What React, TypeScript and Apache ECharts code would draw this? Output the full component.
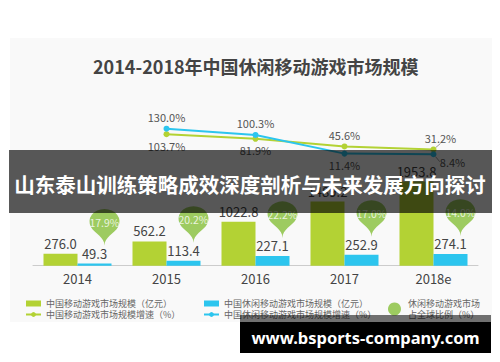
import React, { useEffect, useRef } from 'react';
import * as echarts from 'echarts';

const categories = ['2014', '2015', '2016', '2017', '2018e'];
const mobileMarket = [276.0, 562.2, 1022.8, 1489.2, 1953.8];
const casualMarket = [49.3, 113.4, 227.1, 252.9, 274.1];
const mobileGrowth: (number | string)[] = ['-', 103.7, 81.9, 45.6, 31.2];
const casualGrowth: (number | string)[] = ['-', 130.0, 100.3, 11.4, 8.4];
const globalShare = [17.9, 20.2, 22.2, 17.0, 14.0];

const mobileGrowthLabelPos = ['bottom', 'bottom', 'bottom', 'top', 'top'];
const casualGrowthLabelPos = ['top', 'top', 'top', 'bottom', 'bottom'];

const N_MOBILE = '中国移动游戏市场规模（亿元）';
const N_CASUAL = '中国休闲移动游戏市场规模（亿元）';
const N_MOBILE_G = '中国移动游戏市场规模增速（%）';
const N_CASUAL_G = '中国休闲移动游戏市场规模增速（%）';
const N_SHARE = '休闲移动游戏市场占全球比例（%）';

const FONT = '"Noto Sans CJK SC", "Noto Sans", sans-serif';
const GREEN = '#b3d234';
const BLUE = '#2cc5ee';
const PIN = '#86bf3a';

const pct = (p: any) => (typeof p.value === 'number' ? p.value.toFixed(1) + '%' : '');

export default function App() {
  const ref = useRef<HTMLDivElement>(null);
  useEffect(() => {
    if (!ref.current) return;
    const chart = echarts.init(ref.current, undefined, { renderer: 'svg' });
    const legendText = { fontSize: 9, color: '#666', lineHeight: 11, fontFamily: FONT };
    const option: any = {
      animation: false,
      backgroundColor: '#ffffff',
      textStyle: { fontFamily: FONT },
      title: {
        text: '2014-2018年中国休闲移动游戏市场规模',
        left: 93,
        top: 57,
        padding: 0,
        textStyle: { fontSize: 18, fontWeight: 'bold', color: '#444', fontFamily: FONT },
      },
      legend: [
        {
          left: 25, top: 298, padding: 0, orient: 'vertical', itemGap: 0,
          itemWidth: 15, itemHeight: 6, textStyle: legendText,
          data: [{ name: N_MOBILE, icon: 'rect' }, { name: N_MOBILE_G }],
        },
        {
          left: 203, top: 298, padding: 0, orient: 'vertical', itemGap: 0,
          itemWidth: 15, itemHeight: 6, textStyle: legendText,
          data: [{ name: N_CASUAL, icon: 'rect' }, { name: N_CASUAL_G }],
        },
        {
          left: 388, top: 298, padding: 0, orient: 'vertical',
          itemWidth: 17, itemHeight: 13, itemGap: 0, symbolKeepAspect: false, textStyle: legendText,
          data: [{ name: N_SHARE, icon: 'circle' }],
          formatter: () => '休闲移动游戏市场\n占全球比例（%）',
        },
      ],
      grid: [
        { left: 33, right: 22, top: 162.3, bottom: 96.3 },
        { left: 33, right: 22, top: 124.5, bottom: 206 },
      ],
      xAxis: [
        {
          type: 'category', gridIndex: 0, data: categories,
          axisLine: { lineStyle: { color: '#cccccc' } },
          axisTick: { show: false },
          axisLabel: { fontSize: 13, color: '#444', margin: 6, fontFamily: FONT },
        },
        { type: 'category', gridIndex: 1, data: categories, show: false },
      ],
      yAxis: [
        { type: 'value', gridIndex: 0, min: 0, max: 2400, show: false },
        { type: 'value', gridIndex: 1, min: 0, max: 150, show: false },
      ],
      series: [
        {
          name: N_MOBILE, type: 'bar', xAxisIndex: 0, yAxisIndex: 0, data: mobileMarket,
          barWidth: 34, barGap: '0%', itemStyle: { color: GREEN },
          label: { show: true, position: 'top', distance: 4, fontSize: 13, color: '#444', formatter: (p: any) => p.value.toFixed(1) },
        },
        {
          name: N_CASUAL, type: 'bar', xAxisIndex: 0, yAxisIndex: 0, data: casualMarket,
          barWidth: 34, barGap: '0%', itemStyle: { color: BLUE },
          label: { show: true, position: 'top', distance: 4, fontSize: 13, color: '#444', formatter: (p: any) => p.value.toFixed(1) },
        },
        {
          name: N_SHARE, type: 'scatter', xAxisIndex: 0, yAxisIndex: 0, data: casualMarket,
          symbol: 'pin', symbolSize: [50, 42], symbolOffset: [27, -18], z: 3,
          itemStyle: { color: PIN },
          label: {
            show: true, position: 'inside', color: '#fff', fontSize: 10.5, offset: [0, -1],
            formatter: (p: any) => globalShare[p.dataIndex].toFixed(1) + '%',
          },
        },
        {
          name: N_MOBILE_G, type: 'line', xAxisIndex: 1, yAxisIndex: 1,
          data: mobileGrowth.map((v, i) => ({
            value: v,
            label: { position: mobileGrowthLabelPos[i] },
            labelLine: { show: i === 4, lineStyle: { color: '#999', width: 1 } },
          })),
          symbol: 'circle', symbolSize: 6, z: 4,
          lineStyle: { width: 2, color: GREEN }, itemStyle: { color: GREEN },
          label: { show: true, distance: 3, fontSize: 11, color: '#555', formatter: pct },
          labelLayout: (p: any) => (p.dataIndex === 4 ? { dx: 7 } : {}),
        },
        {
          name: N_CASUAL_G, type: 'line', xAxisIndex: 1, yAxisIndex: 1,
          data: casualGrowth.map((v, i) => ({
            value: v,
            label: { position: casualGrowthLabelPos[i] },
            labelLine: { show: i === 4, lineStyle: { color: '#999', width: 1 } },
          })),
          symbol: 'circle', symbolSize: 6, z: 5,
          lineStyle: { width: 2, color: BLUE }, itemStyle: { color: BLUE },
          label: { show: true, distance: 3, fontSize: 11, color: '#555', formatter: pct },
          labelLayout: (p: any) => (p.dataIndex === 4 ? { dx: 19, dy: -4 } : {}),
        },
      ],
      graphic: [
        { type: 'rect', z: -10, silent: true, shape: { x: 10, y: 38, width: 482, height: 284 }, style: { fill: '#f9f9f9' } },
        { type: 'rect', z: 100, silent: true, shape: { x: 9, y: 150, width: 483, height: 63 }, style: { fill: 'rgba(0,0,0,0.65)' } },
        {
          type: 'text', z: 101, silent: true, x: 250, y: 184,
          style: { text: '山东泰山训练策略成效深度剖析与未来发展方向探讨', fill: '#ffffff', font: 'bold 20.5px "Noto Sans CJK SC", sans-serif', align: 'center', verticalAlign: 'middle' },
        },
        { type: 'rect', z: 100, silent: true, shape: { x: 240, y: 315, width: 251, height: 7 }, style: { fill: 'rgba(0,0,0,0.55)' } },
        { type: 'rect', z: 100, silent: true, shape: { x: 240, y: 322, width: 251, height: 31 }, style: { fill: '#000000' } },
        {
          type: 'text', z: 101, silent: true, x: 365.5, y: 337.5,
          style: { text: 'www.bsports-company.com', fill: '#ffffff', font: 'bold 16.5px "Noto Sans", sans-serif', align: 'center', verticalAlign: 'middle' },
        },
      ],
    };
    chart.setOption(option);
    return () => chart.dispose();
  }, []);
  return <div ref={ref} style={{ position: 'fixed', left: 0, top: 0, width: 500, height: 362 }} />;
}
